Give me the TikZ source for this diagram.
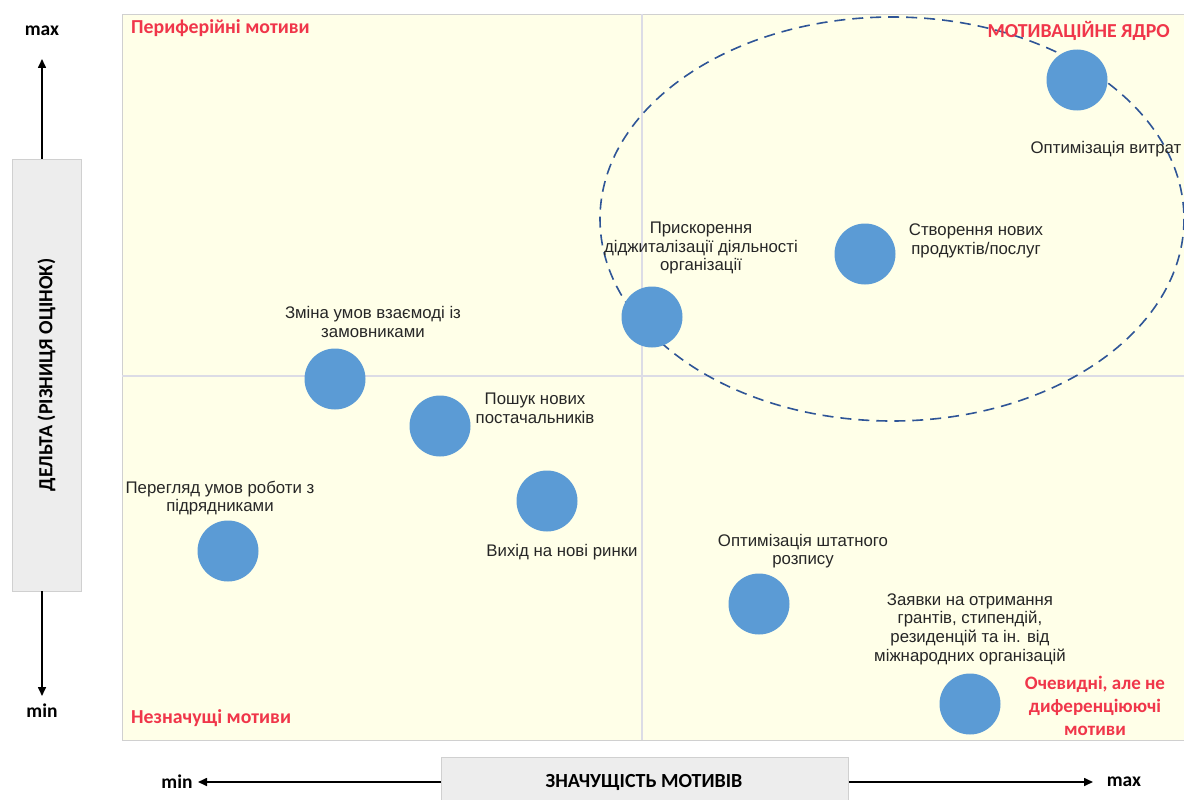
\documentclass[tikz,border=0pt]{standalone}
\usepackage{fontspec}
\setmainfont{Carlito}
\newfontfamily\lblfont{Liberation Sans}
\usetikzlibrary{arrows.meta}
\definecolor{bgyel}{HTML}{FFFFE8}
\definecolor{frame}{HTML}{D0D0D0}
\definecolor{midln}{HTML}{DCDCE6}
\definecolor{boxgray}{HTML}{EDEDED}
\definecolor{dotblue}{HTML}{5B9BD5}
\definecolor{ellblue}{HTML}{2F5597}
\definecolor{redlbl}{HTML}{F0364A}
\tikzset{
  dot/.style={circle,fill=dotblue,minimum size=61pt,inner sep=0pt},
  lbl/.style={font=\lblfont\fontsize{16.8}{18.6}\selectfont,align=center,inner sep=0pt,text=black!85},
  redtxt/.style={font=\bfseries\fontsize{19.8}{23}\selectfont,text=redlbl,inner sep=0pt},
  axtxt/.style={font=\bfseries\fontsize{19.5}{22}\selectfont,inner sep=0pt},
  axbox/.style={fill=boxgray,draw=frame,line width=0.8pt,inner sep=0pt},
  axarrow/.style={line width=1.6pt,-{Triangle[length=9pt,width=8pt]}}
}
\begin{document}
\begin{tikzpicture}[x=1pt,y=-1pt]
\useasboundingbox (0,0) rectangle (1184,800);
% plot area
\node[draw=frame,fill=bgyel,line width=1pt,minimum width=1062pt,minimum height=726pt,inner sep=0pt,anchor=north west] (plot) at (122,14) {};
\coordinate (vt) at (642,14); \coordinate (vb) at (642,740);
\coordinate (hl) at (122,376); \coordinate (hr) at (1184,376);
\draw[midln,line width=1.5pt] (vt) -- (vb);
\draw[midln,line width=1.5pt] (hl) -- (hr);
% ellipse
\draw[ellblue,line width=1.6pt,dash pattern=on 11pt off 7pt] (892,219) ellipse [x radius=292, y radius=202];
% y axis
\node[axbox,minimum width=69pt,minimum height=432pt] (ybox) at (46.5,375) {};
\node[axtxt,rotate=90,font=\bfseries\fontsize{20}{22}\selectfont] (ylab) at (ybox.center) {ДЕЛЬТА (РІЗНИЦЯ ОЦІНОК)};
\node[axtxt] (ymax) at (42,31) {max};
\node[axtxt] (ymin) at (42,711) {min};
\coordinate (yup) at (42,59);
\coordinate (ydn) at (42,696);
\draw[axarrow] (ybox.north -| yup) -- (yup);
\draw[axarrow] (ybox.south -| ydn) -- (ydn);
% x axis
\node[axbox,minimum width=407pt,minimum height=46pt,anchor=north west] (xbox) at (441,757) {};
\node[axtxt,font=\bfseries\fontsize{20}{22}\selectfont] (xlab) at (644,782) {ЗНАЧУЩІСТЬ МОТИВІВ};
\node[axtxt] (xmin) at (177,782) {min};
\node[axtxt] (xmax) at (1124,782) {max};
\coordinate (xl) at (198,782);
\coordinate (xr) at (1093,782);
\draw[axarrow] (xbox.west |- xl) -- (xl);
\draw[axarrow] (xbox.east |- xr) -- (xr);
% quadrant labels
\node[redtxt,anchor=west] (q1) at (131,28) {Периферійні мотиви};
\node[redtxt,anchor=east] (q2) at (1170,31) {МОТИВАЦІЙНЕ ЯДРО};
\node[redtxt,anchor=west] (q3) at (131,718) {Незначущі мотиви};
\node[redtxt,align=center,font=\bfseries\fontsize{19}{23}\selectfont] (q4) at (1095,706) {Очевидні, але не\\диференціюючі\\мотиви};
% dots
\node[dot] (d1) at (1077,80) {};
\node[lbl] (l1) at (1106,149) {Оптимізація витрат};
\node[dot] (d2) at (865,254) {};
\node[lbl] (l2) at (976,241) {Створення нових\\продуктів/послуг};
\node[dot] (d3) at (652,317) {};
\node[lbl] (l3) at (701,248) {Прискорення\\діджиталізації діяльності\\організації};
\node[dot] (d4) at (335,379) {};
\node[lbl] (l4) at (373,322) {Зміна умов взаємоді із\\замовниками};
\node[dot] (d5) at (440,426) {};
\node[lbl] (l5) at (535,408) {Пошук нових\\постачальників};
\node[dot] (d6) at (547,501) {};
\node[lbl] (l6) at (562,552) {Вихід на нові ринки};
\node[dot] (d7) at (228,551) {};
\node[lbl] (l7) at (220,498) {Перегляд умов роботи з\\підрядниками};
\node[dot] (d8) at (759,604) {};
\node[lbl] (l8) at (803,551) {Оптимізація штатного\\розпису};
\node[dot] (d9) at (970,704) {};
\node[lbl] (l9) at (970,629) {Заявки на отримання\\грантів, стипендій,\\резиденцій та ін. від\\міжнародних організацій};
\end{tikzpicture}
\end{document}
